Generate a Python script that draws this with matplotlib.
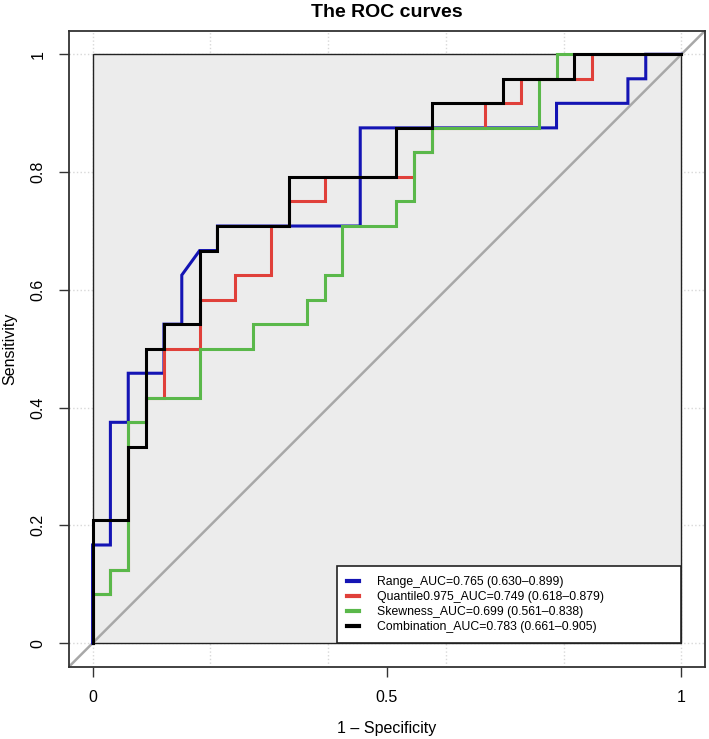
import matplotlib
matplotlib.use("Agg")
import matplotlib.pyplot as plt
import numpy as np

plt.rcParams['font.family'] = ['Liberation Sans', 'DejaVu Sans']

# ROC step vertices: false positives (of 33), true positives (of 24)
n_neg, n_pos = 33, 24

range_fp = [0, 0, 1, 1, 2, 2, 4, 4, 5, 5, 6, 7, 7, 15, 15, 26, 26, 30, 30, 31, 31, 33]
range_tp = [0, 4, 4, 9, 9, 11, 11, 13, 13, 15, 16, 16, 17, 17, 21, 21, 22, 22, 23, 23, 24, 24]

quant_fp = [0, 0, 1, 1, 2, 2, 3, 3, 4, 4, 6, 6, 8, 8, 10, 10, 11, 11, 13, 13, 18, 18, 19, 19, 22, 22, 24, 24, 28, 28, 33]
quant_tp = [0, 2, 2, 3, 3, 9, 9, 10, 10, 12, 12, 14, 14, 15, 15, 17, 17, 18, 18, 19, 19, 20, 20, 21, 21, 22, 22, 23, 23, 24, 24]

skew_fp = [0, 0, 1, 1, 2, 2, 3, 3, 6, 6, 9, 9, 12, 12, 13, 13, 14, 14, 17, 17, 18, 18, 19, 19, 25, 25, 26, 26, 33]
skew_tp = [0, 2, 2, 3, 3, 9, 9, 10, 10, 12, 12, 13, 13, 14, 14, 15, 15, 17, 17, 18, 18, 20, 20, 21, 21, 23, 23, 24, 24]

comb_fp = [0, 0, 2, 2, 3, 3, 4, 4, 6, 6, 7, 7, 11, 11, 17, 17, 19, 19, 23, 23, 27, 27, 33]
comb_tp = [0, 5, 5, 8, 8, 12, 12, 13, 13, 16, 16, 17, 17, 19, 19, 21, 21, 22, 22, 23, 23, 24, 24]

labels = ["Range_AUC=0.765 (0.630\u20130.899)",
          "Quantile0.975_AUC=0.749 (0.618\u20130.879)",
          "Skewness_AUC=0.699 (0.561\u20130.838)",
          "Combination_AUC=0.783 (0.661\u20130.905)"]
colors = ["#1414b4", "#e0403a", "#5ab84a", "#000000"]

curves = [(range_fp, range_tp), (quant_fp, quant_tp), (skew_fp, skew_tp), (comb_fp, comb_tp)]

fig = plt.figure(figsize=(7.09, 7.39), dpi=100)
ax = fig.add_axes([69 / 709, 1 - 666.7 / 739, 636 / 709, 636 / 739])
ax.set_xlim(-0.04, 1.04)
ax.set_ylim(-0.04, 1.04)

# faint dotted grid, only visible in the margin round the panel
for g in [0, 0.2, 0.4, 0.6, 0.8, 1.0]:
    ax.axvline(g, color="#d8d8d8", ls=":", lw=1, zorder=0)
    ax.axhline(g, color="#d8d8d8", ls=":", lw=1, zorder=0)

ax.add_patch(plt.Rectangle((0, 0), 1, 1, facecolor="#ececec", edgecolor="#222222", lw=1.0, zorder=1))
ax.plot([-0.04, 1.04], [-0.04, 1.04], color="#a8a8a8", lw=1.8, zorder=2)

for (fp, tp), c, lab in zip(curves, colors, labels):
    ax.plot(np.array(fp) / n_neg, np.array(tp) / n_pos, color=c, lw=2.2, label=lab, zorder=3,
            solid_joinstyle="miter")

leg = ax.legend(loc="lower left", bbox_to_anchor=(0.415, 0.0, 0.585, 0.13),
                bbox_transform=ax.transData, mode="expand", borderaxespad=0,
                fontsize=8.8, handlelength=1.0, handletextpad=1.5, labelspacing=0.25,
                borderpad=0.8, fancybox=False, framealpha=1, edgecolor="#222222")
leg.get_frame().set_linewidth(1.2)
for h in leg.legend_handles:
    h.set_linewidth(3)
leg.set_zorder(5)

ax.set_xticks([0, 0.5, 1])
ax.set_xticklabels(["0", "0.5", "1"])
ax.set_yticks([0, 0.2, 0.4, 0.6, 0.8, 1])
ax.set_yticklabels(["0", "0.2", "0.4", "0.6", "0.8", "1"], rotation=90, va="center")
ax.tick_params(axis="both", length=7, width=1, color="#333333", labelsize=11.5, pad=10)

for s in ax.spines.values():
    s.set_color("#333333")
    s.set_linewidth(1.3)

ax.set_xlabel("1 \u2013 Specificity", fontsize=11.5, va="center")
ax.set_ylabel("Sensitivity", fontsize=11.5, va="center")
ax.xaxis.set_label_coords(0.5, -0.0964)
ax.yaxis.set_label_coords(-0.093, 0.5)
ax.text(0.5, 1.028, "The ROC curves", transform=ax.transAxes, ha="center", va="center",
        fontsize=14, fontweight="bold")

fig.savefig("out.png", dpi=100)
